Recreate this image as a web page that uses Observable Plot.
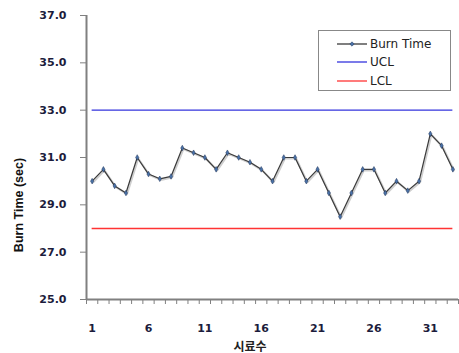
<!DOCTYPE html>
<html><head><meta charset="utf-8">
<script src="https://cdn.jsdelivr.net/npm/d3@7"></script>
<script src="https://cdn.jsdelivr.net/npm/@observablehq/plot@0.6"></script>
<style>
body{margin:0;background:#fff;}
#wrap{position:relative;width:459px;height:353px;}
.ylab{position:absolute;left:19px;top:205px;transform:translate(-50%,-50%) rotate(-90deg);font:bold 12.5px "Liberation Sans",Arial,sans-serif;color:#111;white-space:nowrap;}
.xlab{position:absolute;left:250px;top:345px;transform:translate(-50%,-50%);font:bold 12px "Noto Sans CJK KR",sans-serif;color:#222;}
.legend{position:absolute;left:318px;top:30px;width:133px;height:61px;border:1px solid #888;box-sizing:border-box;font:12px "DejaVu Sans",sans-serif;color:#222;}
.legend .row{position:absolute;left:18px;height:14px;display:flex;align-items:center;}
.legend svg{margin-right:3px;}
</style>
</head><body>
<div id="wrap"></div>
<script>
const samples = d3.range(1, 34);
const burnTime = [30.0,30.5,29.8,29.5,31.0,30.3,30.1,30.2,31.4,31.2,31.0,30.5,31.2,31.0,30.8,30.5,30.0,31.0,31.0,30.0,30.5,29.5,28.5,29.5,30.5,30.5,29.5,30.0,29.6,30.0,32.0,31.5,30.5];
const UCL = 33.0;
const LCL = 28.0;
const yTicks = [25,27,29,31,33,35,37];
const xTickLabels = [1,6,11,16,21,26,31];

const data = samples.map((s,i)=>({s, v: burnTime[i]}));
const bounds = d3.range(0.5, 34, 1);

const plot = Plot.plot({
  width: 459, height: 353,
  marginLeft: 86, marginRight: 1, marginTop: 15, marginBottom: 54,
  style: {fontFamily: "DejaVu Sans, sans-serif", fontSize: "11px", fontWeight: "bold", color: "#1c1c3c", background: "#fff"},
  x: {domain: [0.5, 33.5]},
  y: {domain: [25, 37]},
  marks: [
    Plot.axisY({ticks: yTicks, tickFormat: d3.format(".1f"), tickSize: 6, tickPadding: 14, label: null, stroke: "#808080"}),
    Plot.axisX({ticks: bounds, tickFormat: () => "", tickSize: 5, label: null, stroke: "#808080"}),
    Plot.axisX({ticks: xTickLabels, tickFormat: d3.format("d"), tickSize: 0, tickPadding: 25, label: null}),
    Plot.ruleX([0.5], {stroke: "#808080", strokeWidth: 2}),
    Plot.ruleY([25], {stroke: "#808080", strokeWidth: 2}),
    Plot.ruleY([UCL], {x1: samples[0], x2: samples[samples.length-1], stroke: "#3333dd", strokeWidth: 1.3}),
    Plot.ruleY([LCL], {x1: samples[0], x2: samples[samples.length-1], stroke: "#ff3333", strokeWidth: 1.3}),
    Plot.line(data, {x: "s", y: "v", stroke: "#cfcfcf", strokeWidth: 2.2, dx: 1, dy: 1}),
    Plot.line(data, {x: "s", y: "v", stroke: "#3a3a3a", strokeWidth: 1.2}),
    Plot.dot(data, {x: "s", y: "v", symbol: "diamond", r: 1.7, fill: "#4a72a8", stroke: "#23375a", strokeWidth: 0.5})
  ]
});
const wrap = document.getElementById("wrap");
wrap.appendChild(plot);
wrap.insertAdjacentHTML("beforeend", `
<div class="ylab">Burn Time (sec)</div>
<div class="xlab">시료수</div>
<div class="legend">
 <div class="row" style="top:6px"><svg width="30" height="8"><line x1="0" y1="4" x2="30" y2="4" stroke="#3a3a3a" stroke-width="1.3"/><path d="M15,1.8L17.2,4L15,6.2L12.8,4Z" fill="#4a72a8" stroke="#23375a" stroke-width="0.5"/></svg>Burn Time</div>
 <div class="row" style="top:24px"><svg width="30" height="8"><line x1="0" y1="4" x2="30" y2="4" stroke="#3333dd" stroke-width="1.3"/></svg>UCL</div>
 <div class="row" style="top:43px"><svg width="30" height="8"><line x1="0" y1="4" x2="30" y2="4" stroke="#ff3333" stroke-width="1.3"/></svg>LCL</div>
</div>`);
</script>
</body></html>
